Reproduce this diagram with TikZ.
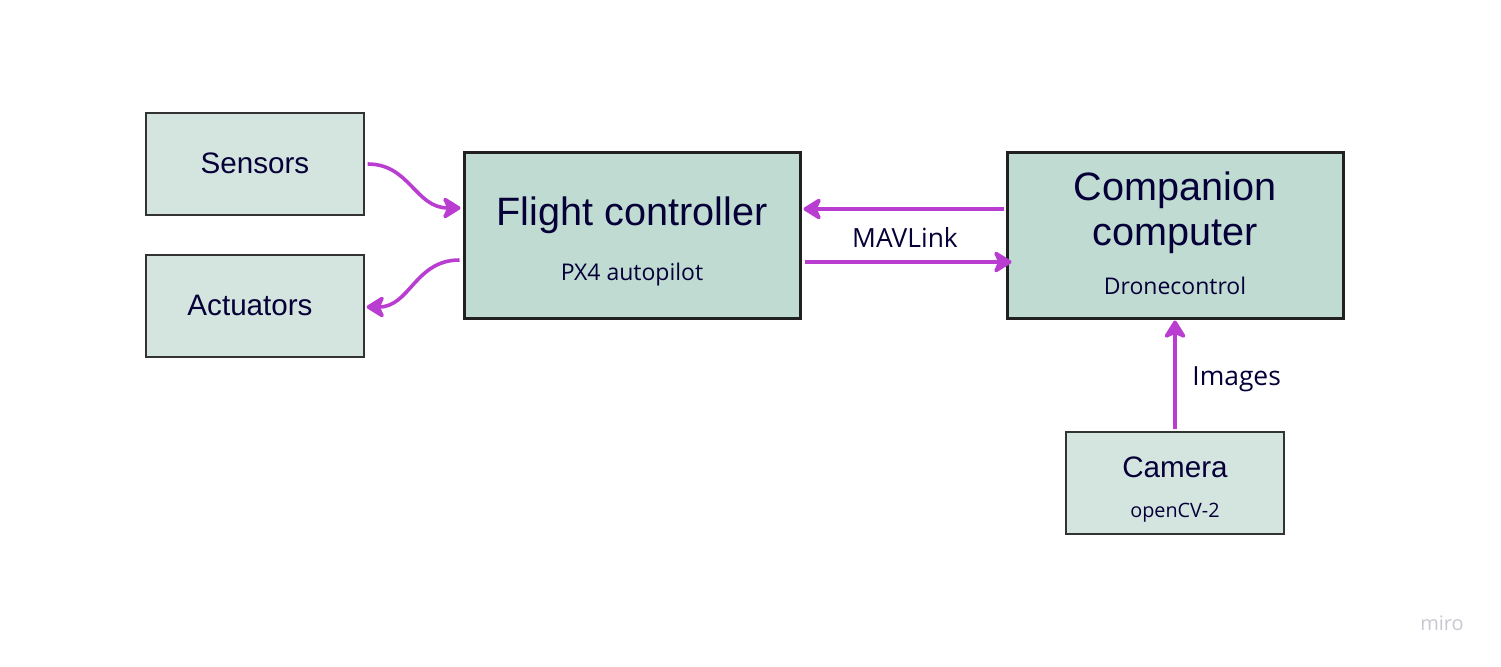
\documentclass[tikz,border=0pt]{standalone}
\usepackage{fontspec}
\setmainfont{Liberation Sans}
\newfontfamily\osans{Open Sans}
\usetikzlibrary{arrows.meta,calc}
\definecolor{ink}{HTML}{050038}
\definecolor{lightbox}{HTML}{D4E5DF}
\definecolor{darkbox}{HTML}{C0DBD1}
\definecolor{arrowc}{HTML}{BA3DD2}
\definecolor{wm}{HTML}{C8C8D2}
\tikzset{
  smallbox/.style={draw=black!80,line width=0.6pt,fill=lightbox,inner sep=0,minimum width=109pt,minimum height=51pt},
  bigbox/.style={draw=black!87,line width=1.5pt,fill=darkbox,inner sep=0,minimum width=168pt,minimum height=83pt},
  title/.style={text=ink,inner sep=0,anchor=base,font=\fontsize{14.8}{17}\selectfont},
  bigtitle/.style={text=ink,inner sep=0,anchor=base,font=\fontsize{19.8}{23}\selectfont},
  sub/.style={text=ink,inner sep=0,anchor=base,font=\osans\fontsize{11.5}{14}\selectfont},
  conn/.style={draw=arrowc,line width=1.8pt,-{Stealth[length=10.5pt,width=13pt,inset=3pt,round]}},
  clabel/.style={text=ink,inner sep=0,anchor=base,font=\osans\fontsize{13.2}{16}\selectfont}
}
\begin{document}
\begin{tikzpicture}[x=0.5pt,y=-0.5pt]
\path[use as bounding box,fill=white] (0,0) rectangle (1501,666);
% boxes
\node[smallbox] (sensors) at (255,164) {};
\node[smallbox] (act) at (255,306) {};
\node[bigbox] (fc) at (632,235) {};
\node[bigbox] (cc) at (1175,235) {};
\node[smallbox] (cam) at (1175,483) {};
% texts
\node[title] (tsens) at (255,173) {Sensors};
\node[title] (tact) at (250,315) {Actuators};
\node[bigtitle] (tfc) at (632,225) {Flight controller};
\node[sub] (sfc) at (632,280) {PX4 autopilot};
\node[bigtitle] (tcc1) at (1175,200) {Companion};
\node[bigtitle] (tcc2) at (1175,245) {computer};
\node[sub] (scc) at (1175,294) {Dronecontrol};
\node[title] (tcam) at (1175,477) {Camera};
\node[sub,font=\osans\fontsize{9.9}{12}\selectfont] (scam) at (1175,517) {openCV-2};
% connectors
\draw[conn] ($(sensors.east)+(3,0)$) .. controls (410,164) and (415,208) .. ($(fc.west)+(-2,-27)$);
\draw[conn] ($(fc.west)+(-3,25)$) .. controls (415,260) and (410,307) .. ($(act.east)+(2,1)$);
\draw[conn] ($(cc.west)+(-2,-26)$) -- ($(fc.east)+(2,-26)$);
\draw[conn] ($(fc.east)+(3,27)$) -- ($(cc.west)+(6,27)$);
\draw[conn] ($(cam.north)+(0,-2)$) -- ($(cc.south)+(0,1)$);
\node[clabel] (lmav) at (905,247) {MAVLink};
\node[clabel,anchor=base west] (limg) at (1192,385) {Images};
\node[text=wm,inner sep=0,anchor=base,font=\osans\fontsize{10}{12}\selectfont] (miro) at (1442,630) {miro};
\end{tikzpicture}
\end{document}
